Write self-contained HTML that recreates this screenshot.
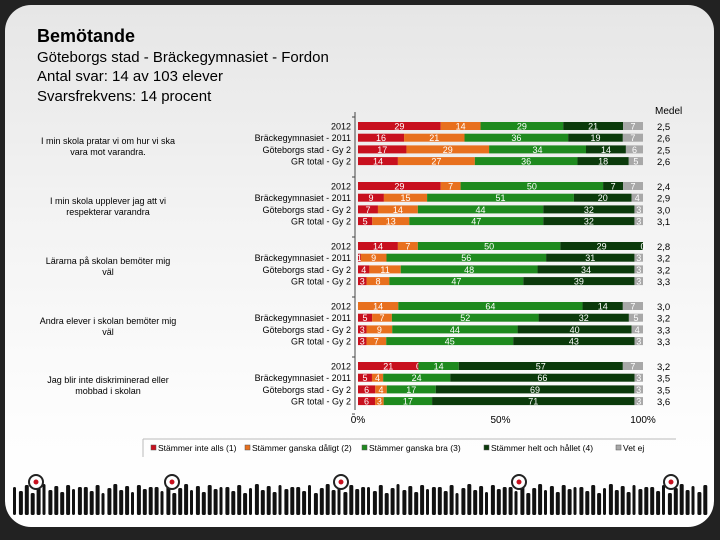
<!DOCTYPE html>
<html><head><meta charset="utf-8">
<style>
body{margin:0;background:#222;font-family:"Liberation Sans",sans-serif;}
#wrap{position:relative;width:720px;height:540px;overflow:hidden;background:#222;}
#card{position:absolute;left:5px;top:5px;width:709px;height:522px;border-radius:26px;background:linear-gradient(#e6e6e6,#f3f3f3 40%,#fdfdfd 80%,#fff);}
.h{position:absolute;left:37px;color:#000;}
</style></head><body>
<div id="wrap">
<div id="card"></div>
<div class="h" style="top:26px;font-size:18px;font-weight:bold">Bemötande</div>
<div class="h" style="top:49px;font-size:15px">Göteborgs stad - Bräckegymnasiet - Fordon</div>
<div class="h" style="top:68px;font-size:15px">Antal svar: 14 av 103 elever</div>
<div class="h" style="top:88px;font-size:15px">Svarsfrekvens: 14 procent</div>
<svg id="chart" width="720" height="540" style="position:absolute;left:0;top:0"></svg>
</div>
<script>
const questions=["I min skola pratar vi om hur vi ska|vara mot varandra.","I min skola upplever jag att vi|respekterar varandra","Lärarna på skolan bemöter mig|väl","Andra elever i skolan bemöter mig|väl","Jag blir inte diskriminerad eller|mobbad i skolan"];
const rowLabels=["2012","Bräckegymnasiet - 2011","Göteborgs stad - Gy 2","GR total - Gy 2"];
const seriesNames=["Stämmer inte alls (1)","Stämmer ganska dåligt (2)","Stämmer ganska bra (3)","Stämmer helt och hållet (4)","Vet ej"];
const s1=[29,16,17,14, 29,9,7,5, 14,1,4,3, 0,5,3,3, 21,5,6,6];
const s2=[14,21,29,27, 7,15,14,13, 7,9,11,8, 14,7,9,7, 0,4,4,3];
const s3=[29,36,34,36, 50,51,44,47, 50,56,48,47, 64,52,44,45, 14,24,17,17];
const s4=[21,19,14,18, 7,20,32,32, 29,31,34,39, 14,32,40,43, 57,66,69,71];
const s5=[7,7,6,5, 7,4,3,3, 0,3,3,3, 7,5,4,3, 7,3,3,3];
const medel=["2,5","2,6","2,5","2,6","2,4","2,9","3,0","3,1","2,8","3,2","3,2","3,3","3,0","3,2","3,3","3,3","3,2","3,5","3,5","3,6"];
const xTicks=["0%","50%","100%"];
const colors=["#c8101e","#e8701e","#1e8a1e","#0b3a0b","#a8a8a8"];
const series=[s1,s2,s3,s4,s5];
const svg=document.getElementById('chart');
const NS='http://www.w3.org/2000/svg';
const X0=358,X1=643;
const x=p=>X0+(X1-X0)*p/100;
const rowY=i=>{const g=Math.floor(i/4),r=i%4;return 126+g*60+r*11.7;};
function mk(t,a){const e=document.createElementNS(NS,t);for(const k in a)e.setAttribute(k,a[k]);svg.appendChild(e);return e;}
// axis line
let ax=mk('line',{x1:X0-3,y1:112,x2:X0-3,y2:410,stroke:'#444','stroke-width':1});


for(let g=0;g<=5;g++){let t=mk('line',{x1:X0-6,y1:117+g*60-(g==5?3:0),x2:X0-3,y2:117+g*60-(g==5?3:0),stroke:'#444'});}
let mt=mk('text',{x:655,y:114,'font-size':10,fill:'#000'});mt.textContent='Medel';


for(let i=0;i<s1.length;i++){
  const y=rowY(i);
  const tot=series.reduce((a,s)=>a+s[i],0);
  let acc=0;
  series.forEach((s,k)=>{
    const v=s[i];
    const xa=x(acc/tot*100),xb=x((acc+v)/tot*100);
    const r=mk('rect',{x:xa,y:y-4,width:Math.max(0,xb-xa),height:8,fill:colors[k]});
    
    
    const t=mk('text',{x:(xa+xb)/2,y:y+3.5,'font-size':9,fill:'#fff','text-anchor':'middle'});
    t.textContent=v;
    
    
    acc+=v;
  });
  const l=mk('text',{x:351,y:y+3.5,'font-size':9,fill:'#000','text-anchor':'end'});
  l.textContent=rowLabels[i%4];
  
  
  const m=mk('text',{x:657,y:y+4,'font-size':9.5,fill:'#000'});
  m.textContent=medel[i];
  
  
}
questions.forEach((q,g)=>{
  const parts=q.split('|');
  parts.forEach((p,j)=>{
    const t=mk('text',{x:108,y:144+g*60+j*11-(g==4?1:0),'font-size':9,fill:'#000','text-anchor':'middle'});
    t.textContent=p;
    
    
  });
});
xTicks.forEach((s,i)=>{
  const t=mk('text',{x:x(i*50),y:423,'font-size':10,fill:'#000','text-anchor':'middle'});
  t.textContent=s;
  
  
});
// legend
let lb=mk('line',{x1:143,y1:439,x2:676,y2:439,stroke:'#bbb'});


let ll=mk('line',{x1:143,y1:439,x2:143,y2:457,stroke:'#bbb'});


const legX=[158,252,369,491,623];
seriesNames.forEach((n,k)=>{
  const r=mk('rect',{x:legX[k]-7,y:445,width:5,height:5,fill:colors[k],stroke:'#555','stroke-width':0.5});
  
  
  const t=mk('text',{x:legX[k],y:451,'font-size':8.5,fill:'#000'});
  t.textContent=n;
  
  
});
// footer silhouettes (decoration)
const hs=[28,24,30,22,27,31,25,29,23,30,26,28];
for(let i=0;i<118;i++){
  const h=hs[i%hs.length];
  const w=(i%5==0)?3:4;
  const r=mk('rect',{x:13+i*5.9,y:515-h,width:w,height:h,fill:'#111',rx:1.5});
  
  
}
[36,172,341,519,671].forEach(cx=>{
  const c=mk('circle',{cx:cx,cy:482,r:7,fill:'#fff',stroke:'#222','stroke-width':2});
  
  
  const d=mk('circle',{cx:cx,cy:482,r:2.5,fill:'#c8101e'});
  
  
});
</script>
</body></html>
